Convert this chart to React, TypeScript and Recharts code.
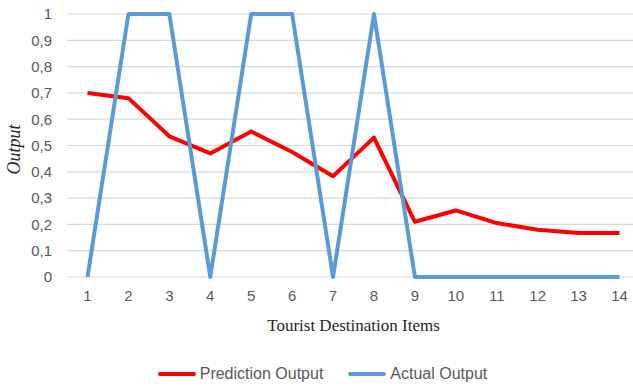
import { LineChart, Line, XAxis, YAxis, CartesianGrid, Legend, Label } from 'recharts';

const items = ['1', '2', '3', '4', '5', '6', '7', '8', '9', '10', '11', '12', '13', '14'];
const predictionOutput = [0.70, 0.68, 0.535, 0.47, 0.553, 0.475, 0.383, 0.53, 0.21, 0.253, 0.205, 0.18, 0.167, 0.167];
const actualOutput = [0, 1, 1, 0, 1, 1, 0, 1, 0, 0, 0, 0, 0, 0];
const yTicks = [0, 0.1, 0.2, 0.3, 0.4, 0.5, 0.6, 0.7, 0.8, 0.9, 1];

const SERIES = [
    { key: 'prediction', name: 'Prediction Output', color: '#FF0000' },
    { key: 'actual', name: 'Actual Output', color: '#5B9BD5' }
];

const data = items.map((item, i) => ({
    item,
    prediction: predictionOutput[i],
    actual: actualOutput[i]
}));

const SANS = '"Liberation Sans", Arial, sans-serif';
const SERIF = '"Liberation Serif", "Times New Roman", serif';
const TICK_STYLE = { fontFamily: SANS, fontSize: 15, fill: '#595959' };

// decimal comma, whole numbers without decimals
const formatTick = (v: number) => (v === 0 || v === 1 ? String(v) : v.toFixed(1).replace('.', ','));

function LegendContent() {
    return (
        <div style={{ display: 'flex', justifyContent: 'center', alignItems: 'center', gap: 25 }}>
            {SERIES.map((s) => (
                <div key={s.key} style={{ display: 'flex', alignItems: 'center' }}>
                    <span style={{ display: 'inline-block', width: 38, height: 4, borderRadius: 2, background: s.color, marginRight: 4 }} />
                    <span style={{ color: '#595959', fontFamily: SANS, fontSize: 16 }}>{s.name}</span>
                </div>
            ))}
        </div>
    );
}

export default function App() {
    return (
        <div style={{ position: 'absolute', left: 0, top: 0, width: 633, height: 388, overflow: 'hidden', background: '#fff' }}>
            <LineChart width={650} height={388} data={data} margin={{ top: 14, right: 10, bottom: 0, left: 7 }}>
                <CartesianGrid horizontal vertical={false} stroke="#D9D9D9" strokeWidth={1.2} />
                <XAxis
                    dataKey="item"
                    height={111}
                    padding={{ left: 20.5, right: 20.5 }}
                    axisLine={false}
                    tickLine={false}
                    tickSize={6}
                    tickMargin={7}
                    tick={TICK_STYLE}
                    interval={0}
                >
                    <Label
                        value="Tourist Destination Items"
                        position="insideTop"
                        offset={42}
                        style={{ fontFamily: SERIF, fontSize: 17, fill: '#262626' }}
                    />
                </XAxis>
                <YAxis
                    width={60}
                    domain={[0, 1]}
                    ticks={yTicks}
                    axisLine={false}
                    tickLine={false}
                    tickSize={6}
                    tickMargin={9}
                    tick={TICK_STYLE}
                    tickFormatter={formatTick}
                >
                    <Label
                        content={({ viewBox }: any) => {
                            const cx = 20;
                            const cy = viewBox.y + viewBox.height / 2 + 4;
                            return (
                                <text
                                    x={cx}
                                    y={cy}
                                    transform={`rotate(-90, ${cx}, ${cy})`}
                                    textAnchor="middle"
                                    style={{ fontFamily: SERIF, fontSize: 18, fontStyle: 'italic', fill: '#262626' }}
                                >
                                    Output
                                </text>
                            );
                        }}
                    />
                </YAxis>
                {SERIES.map((s) => (
                    <Line
                        key={s.key}
                        type="linear"
                        dataKey={s.key}
                        name={s.name}
                        stroke={s.color}
                        strokeWidth={4}
                        dot={false}
                        activeDot={false}
                        strokeLinejoin="round"
                        isAnimationActive={false}
                    />
                ))}
                <Legend
                    layout="horizontal"
                    align="center"
                    verticalAlign="middle"
                    wrapperStyle={{ top: 365, left: 6, width: 633 }}
                    content={<LegendContent />}
                />
            </LineChart>
        </div>
    );
}
